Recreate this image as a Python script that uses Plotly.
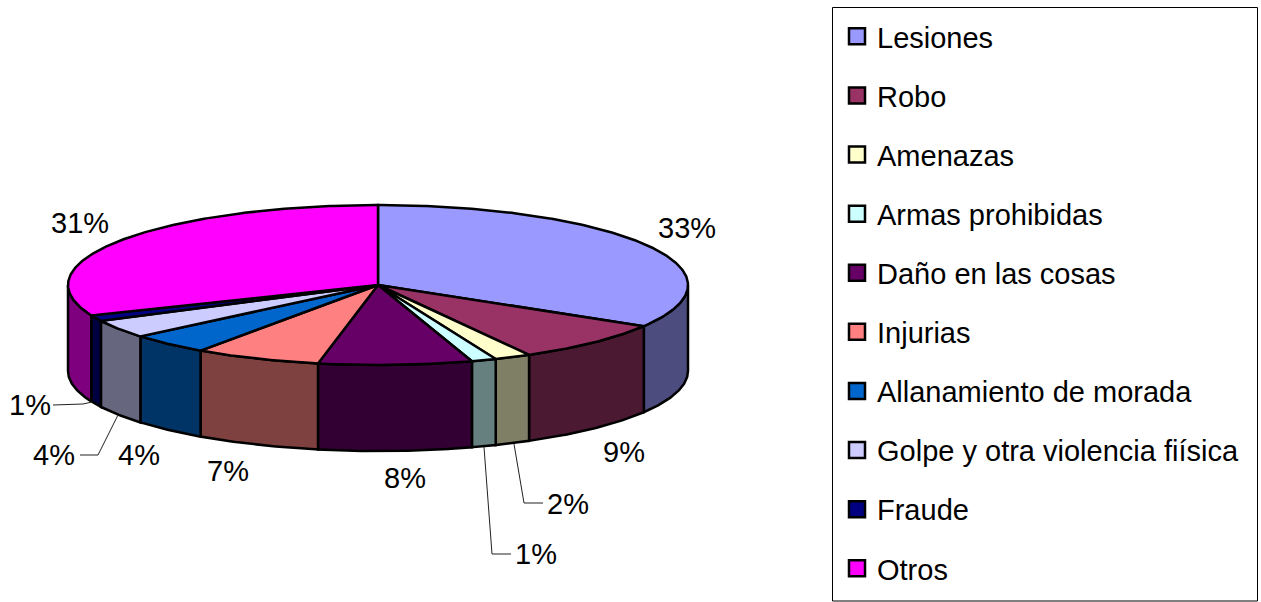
import numpy as np
import plotly.graph_objects as go

categories = ["Lesiones", "Robo", "Amenazas", "Armas prohibidas", "Daño en las cosas",
              "Injurias", "Allanamiento de morada", "Golpe y otra violencia fiísica",
              "Fraude", "Otros"]
values = [33.6, 8.3, 1.9, 1.3, 8.0, 6.6, 4.2, 3.7, 1.2, 31.2]
top_colors = ["#9999FF", "#993366", "#FFFFCC", "#CCFFFF", "#660066",
              "#FF8080", "#0066CC", "#CCCCFF", "#000080", "#FF00FF"]
side_colors = ["#4C4C7F", "#4C1933", "#7F7F66", "#667F7F", "#330033",
               "#7F4040", "#003366", "#66667F", "#000040", "#7F007F"]
label_text = ["33%", "9%", "2%", "1%", "8%", "7%", "4%", "4%", "1%", "31%"]
label_x = [687, 624, 568, 536, 405, 228, 139, 54, 30, 80]
label_y = [228, 452, 504, 554, 478, 471, 455, 455, 405, 223]
leaders = [
    ([543, 524, 514], [503, 503, 444]),
    ([511, 492, 484], [554, 554, 447]),
    ([80, 98, 118], [455, 455, 415]),
    ([53, 83, 92], [405, 404, 402]),
]

CX, CY, RX, RY, DEPTH = 378, 285, 310, 80, 86
W, H = 1261, 602
FONT = "Liberation Sans, Arial, sans-serif"
FS = 29


def rim(a0, a1, dy=0.0):
    a = np.radians(np.linspace(a0, a1, max(int(abs(a1 - a0) * 2), 2) + 1))
    return CX + RX * np.sin(a), CY - RY * np.cos(a) + dy


fig = go.Figure()
edges = np.concatenate([[0], np.cumsum(values)]) / sum(values) * 360

# side walls (only the front half of the cylinder is visible)
for i in range(len(values)):
    a0, a1 = max(edges[i], 90), min(edges[i + 1], 270)
    if a1 <= a0:
        continue
    tx, ty = rim(a0, a1)
    bx, by = rim(a1, a0, DEPTH)
    fig.add_trace(go.Scatter(
        x=np.r_[tx, bx, tx[0]], y=np.r_[ty, by, ty[0]], mode="lines", fill="toself",
        fillcolor=side_colors[i], line=dict(color="black", width=2.5),
        showlegend=False, hoverinfo="skip"))

# top faces
for i in range(len(values)):
    tx, ty = rim(edges[i], edges[i + 1])
    fig.add_trace(go.Scatter(
        x=np.r_[CX, tx, CX], y=np.r_[CY, ty, CY], mode="lines", fill="toself",
        fillcolor=top_colors[i], line=dict(color="black", width=2.5),
        showlegend=False, hoverinfo="skip"))

# leader lines
for lx, ly in leaders:
    fig.add_trace(go.Scatter(x=lx, y=ly, mode="lines", line=dict(color="#222222", width=1),
                             showlegend=False, hoverinfo="skip"))

# legend entries
for i, name in enumerate(categories):
    fig.add_trace(go.Scatter(
        x=[None], y=[None], mode="markers", name=name, legendgroup=name,
        marker=dict(symbol="square", size=16, color=top_colors[i],
                    line=dict(color="black", width=2.5))))

annotations = [dict(x=x, y=y, text=t, showarrow=False, xref="x", yref="y",
                    xanchor="center", yanchor="middle",
                    font=dict(family=FONT, size=FS, color="black"))
               for t, x, y in zip(label_text, label_x, label_y)]

fig.update_layout(
    width=W, height=H, margin=dict(l=0, r=0, t=0, b=0),
    paper_bgcolor="white", plot_bgcolor="white",
    xaxis=dict(range=[0, W], visible=False, fixedrange=True),
    yaxis=dict(range=[H, 0], visible=False, fixedrange=True),
    annotations=annotations,
    shapes=[dict(type="rect", xref="x", yref="y", x0=832.5, x1=1257.5, y0=7.5, y1=601,
                 line=dict(color="black", width=1))],
    legend=dict(x=837 / W, y=1 - 11 / H, xanchor="left", yanchor="top",
                bgcolor="rgba(0,0,0,0)", borderwidth=0, traceorder="grouped",
                tracegroupgap=18.4, font=dict(family=FONT, size=FS, color="black"),
                itemclick=False, itemdoubleclick=False),
)
fig.write_html("out.html", config={"displayModeBar": False},
               post_script="document.body.style.margin='0';")
